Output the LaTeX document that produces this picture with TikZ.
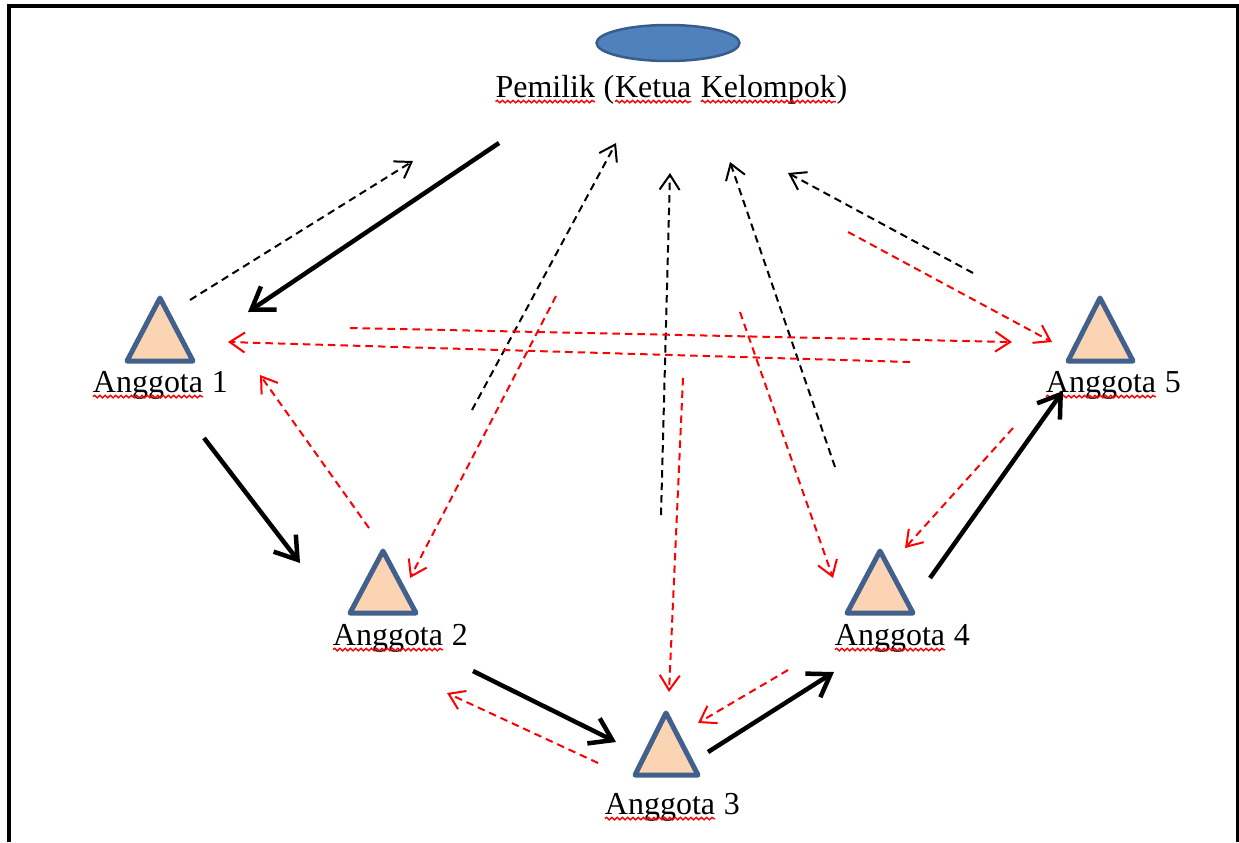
\documentclass[tikz,border=0pt]{standalone}
\usepackage{fontspec}
\setmainfont{Liberation Serif}
\usetikzlibrary{arrows.meta,shapes.geometric,decorations.pathmorphing}
\definecolor{ownfill}{HTML}{4F81BD}
\definecolor{owndraw}{HTML}{385D8A}
\definecolor{memfill}{HTML}{FBD4B4}
\definecolor{memdraw}{HTML}{41608C}
\newcommand\squig[1]{\tikz[baseline=(w.base)]{\node[inner sep=0pt, outer sep=0pt, anchor=base] (w) {#1};
  \draw[red, line width=0.8pt, decorate, decoration={snake, amplitude=0.7pt, segment length=3pt}]
    ([yshift=-2.6pt]w.base west) -- ([yshift=-2.6pt]w.base east);}}
\tikzset{
  lbl/.style={inner sep=0pt, anchor=base, font=\fontsize{18.2}{22}\selectfont},
  member/.style={draw=memdraw, fill=memfill, line width=0.1cm, line join=round},
  task/.style={line width=0.09cm, -{Straight Barb[length=0.42cm,width=0.56cm]}},
  report/.style={line width=0.04cm, dash pattern=on 0.15cm off 0.1cm, -{Straight Barb[length=0.3cm,width=0.4cm]}},
  share/.style={report, red}
}
\begin{document}
\begin{tikzpicture}[x=0.02cm, y=-0.02cm]
  \useasboundingbox (0,0) rectangle (1239,842);
  \draw[line width=0.065cm] (9,842) -- (9,6) -- (1238,6) -- (1238,842);

  % owner and group members
  \node[ellipse, draw=owndraw, fill=ownfill, line width=0.05cm, minimum width=2.86cm, minimum height=0.72cm] (own) at (668,43) {};
  \node[lbl] (ownlbl) at (671,97) {\squig{Pemilik} (\squig{Ketua} \squig{Kelompok})};

  \draw[member] (160,298) -- (193,361) -- (127,361) -- cycle;
  \draw[member] (383,551) -- (416,613) -- (350,613) -- cycle;
  \draw[member] (666,713) -- (698,775) -- (635,775) -- cycle;
  \draw[member] (880,551) -- (913,613) -- (847,613) -- cycle;
  \draw[member] (1100,298) -- (1133,361) -- (1068,361) -- cycle;
  \node[lbl] (m1) at (160,392) {\squig{Anggota} 1};
  \node[lbl] (m2) at (400,645) {\squig{Anggota} 2};
  \node[lbl] (m3) at (672,814) {\squig{Anggota} 3};
  \node[lbl] (m4) at (902,645) {\squig{Anggota} 4};
  \node[lbl] (m5) at (1113,392) {\squig{Anggota} 5};

  % free ends of the connectors
  \coordinate (k1a) at (499,143);  \coordinate (k1b) at (248,312);
  \coordinate (k2a) at (204,438);  \coordinate (k2b) at (300,563);
  \coordinate (k3a) at (473,671);  \coordinate (k3b) at (616,742);
  \coordinate (k4a) at (708,752);  \coordinate (k4b) at (834,672);
  \coordinate (k5a) at (930,578);  \coordinate (k5b) at (1063,391);
  \coordinate (d1a) at (190,300);  \coordinate (d1b) at (413,161);
  \coordinate (d2a) at (472,410);  \coordinate (d2b) at (616,143);
  \coordinate (d3a) at (661,515);  \coordinate (d3b) at (670,173);
  \coordinate (d4a) at (835,467);  \coordinate (d4b) at (730,162);
  \coordinate (d5a) at (973,273);  \coordinate (d5b) at (788,173);
  \coordinate (r1a) at (556,296);  \coordinate (r1b) at (410,578);
  \coordinate (r2a) at (683,378);  \coordinate (r2b) at (669,692);
  \coordinate (r3a) at (740,312);  \coordinate (r3b) at (833,578);
  \coordinate (r4a) at (848,232);  \coordinate (r4b) at (1052,342);
  \coordinate (r5a) at (1013,428); \coordinate (r5b) at (905,548);
  \coordinate (r6a) at (369,528);  \coordinate (r6b) at (260,375);
  \coordinate (r7a) at (350,328);  \coordinate (r7b) at (1012,342);
  \coordinate (r8a) at (910,362);  \coordinate (r8b) at (228,342);
  \coordinate (r9a) at (598,763);  \coordinate (r9b) at (447,693);
  \coordinate (r10a) at (788,670); \coordinate (r10b) at (698,723);

  % tasks passed along
  \draw[task] (k1a) -- (k1b);
  \draw[task] (k2a) -- (k2b);
  \draw[task] (k3a) -- (k3b);
  \draw[task] (k4a) -- (k4b);
  \draw[task] (k5a) -- (k5b);

  % reports to the owner
  \draw[report] (d1a) -- (d1b);
  \draw[report] (d2a) -- (d2b);
  \draw[report] (d3a) -- (d3b);
  \draw[report] (d4a) -- (d4b);
  \draw[report] (d5a) -- (d5b);

  % between members
  \draw[share] (r1a) -- (r1b);
  \draw[share] (r2a) -- (r2b);
  \draw[share] (r3a) -- (r3b);
  \draw[share] (r4a) -- (r4b);
  \draw[share] (r5a) -- (r5b);
  \draw[share] (r6a) -- (r6b);
  \draw[share] (r7a) -- (r7b);
  \draw[share] (r8a) -- (r8b);
  \draw[share] (r9a) -- (r9b);
  \draw[share] (r10a) -- (r10b);
\end{tikzpicture}
\end{document}
